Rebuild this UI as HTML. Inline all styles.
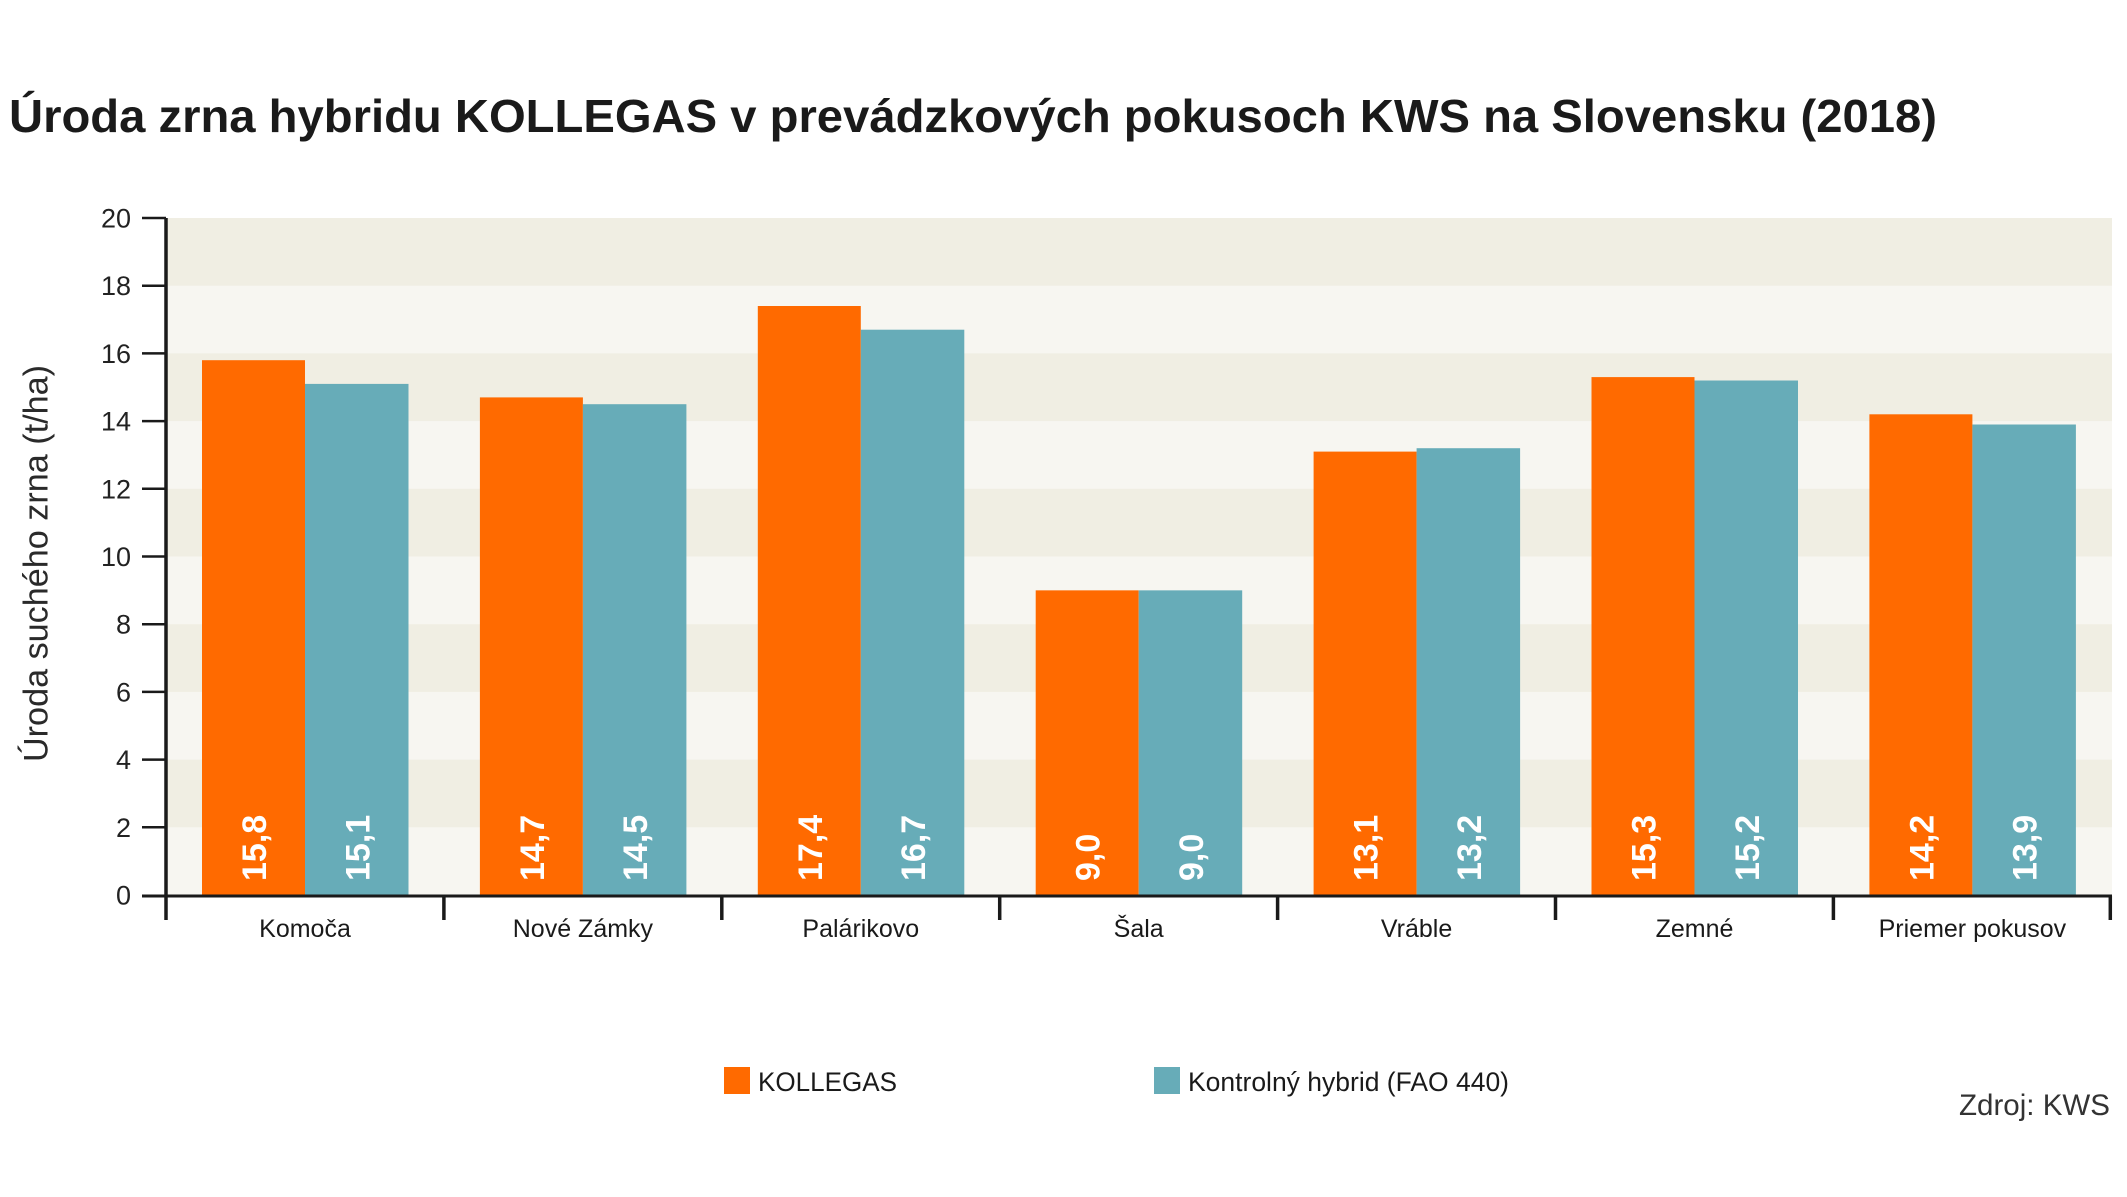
<!DOCTYPE html>
<html>
<head>
<meta charset="utf-8">
<style>
  html, body { margin: 0; padding: 0; background: #ffffff; }
  svg { display: block; }
  text { font-family: "Liberation Sans", "DejaVu Sans", sans-serif; }
</style>
</head>
<body>
<svg width="2127" height="1197" viewBox="0 0 2127 1197" xmlns="http://www.w3.org/2000/svg">
  <rect x="0" y="0" width="2127" height="1197" fill="#ffffff"/>

  <!-- Title -->
  <text x="9" y="132" font-size="46" font-weight="bold" fill="#1a1a1a" textLength="1928" lengthAdjust="spacingAndGlyphs">Úroda zrna hybridu KOLLEGAS v prevádzkových pokusoch KWS na Slovensku (2018)</text>

  <!-- Plot background bands -->
  <rect x="166" y="218" width="1946" height="677" fill="#f7f6f1"/>
  <rect x="166" y="218" width="1946" height="67.7" fill="#f0eee3"/>
  <rect x="166" y="353.4" width="1946" height="67.7" fill="#f0eee3"/>
  <rect x="166" y="488.8" width="1946" height="67.7" fill="#f0eee3"/>
  <rect x="166" y="624.2" width="1946" height="67.7" fill="#f0eee3"/>
  <rect x="166" y="759.6" width="1946" height="67.7" fill="#f0eee3"/>

  <!-- Bars: orange (KOLLEGAS) -->
  <g fill="#ff6a00">
    <rect x="202" y="360.2" width="103" height="534.8"/>
    <rect x="479.9" y="397.4" width="103" height="497.6"/>
    <rect x="757.8" y="306.0" width="103" height="589.0"/>
    <rect x="1035.7" y="590.35" width="103" height="304.65"/>
    <rect x="1313.6" y="451.6" width="103" height="443.4"/>
    <rect x="1591.5" y="377.1" width="103" height="517.9"/>
    <rect x="1869.4" y="414.3" width="103" height="480.7"/>
  </g>
  <!-- Bars: teal (Kontrolný hybrid) -->
  <g fill="#67acb8">
    <rect x="305" y="383.9" width="103.5" height="511.1"/>
    <rect x="582.9" y="404.2" width="103.5" height="490.8"/>
    <rect x="860.8" y="329.7" width="103.5" height="565.3"/>
    <rect x="1138.7" y="590.35" width="103.5" height="304.65"/>
    <rect x="1416.6" y="448.2" width="103.5" height="446.8"/>
    <rect x="1694.5" y="380.5" width="103.5" height="514.5"/>
    <rect x="1972.4" y="424.5" width="103.5" height="470.5"/>
  </g>

  <!-- Bar value labels -->
  <g fill="#ffffff" font-size="34" font-weight="bold">
    <text transform="translate(266,881) rotate(-90)">15,8</text>
    <text transform="translate(369.25,881) rotate(-90)">15,1</text>
    <text transform="translate(543.9,881) rotate(-90)">14,7</text>
    <text transform="translate(647.15,881) rotate(-90)">14,5</text>
    <text transform="translate(821.8,881) rotate(-90)">17,4</text>
    <text transform="translate(925.05,881) rotate(-90)">16,7</text>
    <text transform="translate(1099.7,881) rotate(-90)">9,0</text>
    <text transform="translate(1202.95,881) rotate(-90)">9,0</text>
    <text transform="translate(1377.6,881) rotate(-90)">13,1</text>
    <text transform="translate(1480.85,881) rotate(-90)">13,2</text>
    <text transform="translate(1655.5,881) rotate(-90)">15,3</text>
    <text transform="translate(1758.75,881) rotate(-90)">15,2</text>
    <text transform="translate(1933.4,881) rotate(-90)">14,2</text>
    <text transform="translate(2036.65,881) rotate(-90)">13,9</text>
  </g>

  <!-- Axes -->
  <g stroke="#1a1a1a" fill="none">
    <!-- y axis line -->
    <line x1="166" y1="218" x2="166" y2="920" stroke-width="3.5"/>
    <!-- x axis line -->
    <line x1="142" y1="896" x2="2112" y2="896" stroke-width="3"/>
    <!-- y ticks -->
    <g stroke-width="2.5">
      <line x1="142" y1="827.3" x2="166" y2="827.3"/>
      <line x1="142" y1="759.6" x2="166" y2="759.6"/>
      <line x1="142" y1="691.9" x2="166" y2="691.9"/>
      <line x1="142" y1="624.2" x2="166" y2="624.2"/>
      <line x1="142" y1="556.5" x2="166" y2="556.5"/>
      <line x1="142" y1="488.8" x2="166" y2="488.8"/>
      <line x1="142" y1="421.1" x2="166" y2="421.1"/>
      <line x1="142" y1="353.4" x2="166" y2="353.4"/>
      <line x1="142" y1="285.7" x2="166" y2="285.7"/>
      <line x1="142" y1="218" x2="166" y2="218"/>
    </g>
    <!-- group separators -->
    <g stroke-width="3.5">
      <line x1="443.9" y1="896" x2="443.9" y2="920"/>
      <line x1="721.8" y1="896" x2="721.8" y2="920"/>
      <line x1="999.7" y1="896" x2="999.7" y2="920"/>
      <line x1="1277.6" y1="896" x2="1277.6" y2="920"/>
      <line x1="1555.5" y1="896" x2="1555.5" y2="920"/>
      <line x1="1833.4" y1="896" x2="1833.4" y2="920"/>
      <line x1="2110.3" y1="896" x2="2110.3" y2="920"/>
    </g>
  </g>

  <!-- Y tick labels -->
  <g fill="#222222" font-size="27" text-anchor="end">
    <text x="131" y="904.5">0</text>
    <text x="131" y="836.8">2</text>
    <text x="131" y="769.1">4</text>
    <text x="131" y="701.4">6</text>
    <text x="131" y="633.7">8</text>
    <text x="131" y="566">10</text>
    <text x="131" y="498.3">12</text>
    <text x="131" y="430.6">14</text>
    <text x="131" y="362.9">16</text>
    <text x="131" y="295.2">18</text>
    <text x="131" y="227.5">20</text>
  </g>

  <!-- Y axis title -->
  <text transform="translate(47.5,762) rotate(-90)" font-size="34" fill="#2a2a2a" textLength="397" lengthAdjust="spacingAndGlyphs">Úroda suchého zrna (t/ha)</text>

  <!-- Category labels -->
  <g fill="#1a1a1a" font-size="25" text-anchor="middle">
    <text x="305" y="937">Komoča</text>
    <text x="582.9" y="937">Nové Zámky</text>
    <text x="860.8" y="937">Palárikovo</text>
    <text x="1138.7" y="937">Šala</text>
    <text x="1416.6" y="937">Vráble</text>
    <text x="1694.5" y="937">Zemné</text>
    <text x="1972.4" y="937">Priemer pokusov</text>
  </g>

  <!-- Legend -->
  <rect x="724" y="1067" width="26" height="27" fill="#ff6a00"/>
  <text x="758" y="1091" font-size="27" fill="#1a1a1a" textLength="139" lengthAdjust="spacingAndGlyphs">KOLLEGAS</text>
  <rect x="1154" y="1067" width="26" height="27" fill="#67acb8"/>
  <text x="1188" y="1091" font-size="27" fill="#1a1a1a" textLength="321" lengthAdjust="spacingAndGlyphs">Kontrolný hybrid (FAO 440)</text>

  <!-- Source -->
  <text x="1959" y="1115" font-size="30" fill="#333333" textLength="151" lengthAdjust="spacingAndGlyphs">Zdroj: KWS</text>
</svg>
</body>
</html>
